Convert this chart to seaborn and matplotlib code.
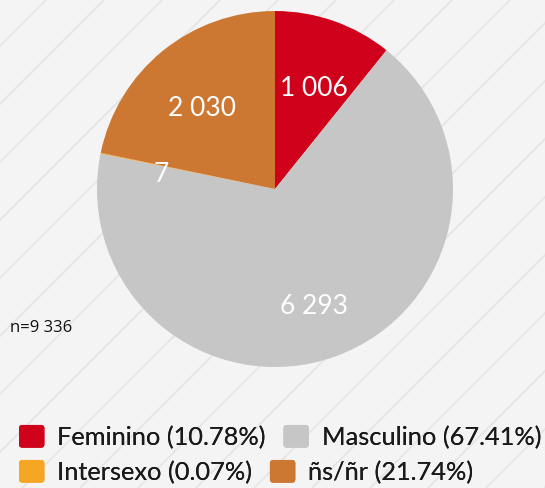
import numpy as np
import matplotlib
matplotlib.use("Agg")
import matplotlib.pyplot as plt
import matplotlib.transforms as mtransforms
import seaborn as sns
from matplotlib.legend_handler import HandlerPatch
from matplotlib.patches import FancyBboxPatch

# data
categories = ["Feminino", "Masculino", "Intersexo", "ñs/ñr"]
counts = [1006, 6293, 7, 2030]
percent_labels = ["10.78%", "67.41%", "0.07%", "21.74%"]
colors = ["#D0021B", "#C6C6C6", "#F5A623", "#CC7833"]
total = sum(counts)

sns.set_theme(style="white")
plt.rcParams["font.family"] = ["Lato", "DejaVu Sans"]

W, H = 545, 488
fig = plt.figure(figsize=(W / 100, H / 100), dpi=100)
fig.patch.set_facecolor("#F4F4F4")

# striped background
bg = fig.add_axes([0, 0, 1, 1], zorder=0)
bg.set_xlim(0, W)
bg.set_ylim(H, 0)
bg.axis("off")
for c in np.arange(-H, W + H + 60, 58) + 12:
    bg.plot([c, c - H], [0, H], color="#E6E6E6", lw=1.4, solid_capstyle="butt")

# pie
cx, cy, r = 275, 189, 178
ax = fig.add_axes([(cx - r) / W, (H - cy - r) / H, 2 * r / W, 2 * r / H], zorder=1)
ax.patch.set_alpha(0)


def fmt(p):
    v = int(round(p * total / 100))
    return f"{v:,}".replace(",", " ")


wedges, _, autotexts = ax.pie(
    counts, colors=colors, startangle=90, counterclock=False,
    autopct=fmt, pctdistance=0.65, radius=1,
    wedgeprops=dict(linewidth=0),
    textprops=dict(color="white", fontsize=19),
)
ax.set_xlim(-1, 1)
ax.set_ylim(-1, 1)
# labels sit a bit lower than the wedge centroid
shift = mtransforms.offset_copy(ax.transData, fig=fig, x=0, y=-9, units="dots")
for t in autotexts:
    t.set_transform(shift)

fig.text(10 / W, 1 - 328 / H, f"n={total:,}".replace(",", " "),
         fontsize=12, family=["Open Sans", "DejaVu Sans"], va="center", color="#111111")


class RoundHandler(HandlerPatch):
    def create_artists(self, legend, orig_handle, xdescent, ydescent, width, height, fontsize, trans):
        p = FancyBboxPatch((-xdescent, -ydescent), width, height,
                           boxstyle="round,pad=0,rounding_size=2.5",
                           facecolor=orig_handle.get_facecolor(), edgecolor="none",
                           transform=trans)
        return [p]


labels = [f"{c} ({p})" for c, p in zip(categories, percent_labels)]
hmap = {w: RoundHandler() for w in wedges}
for row, yc in enumerate([437, 472]):
    idx = [2 * row, 2 * row + 1]
    leg = fig.legend([wedges[i] for i in idx], [labels[i] for i in idx],
                     loc="center left", bbox_to_anchor=(19 / W, 1 - yc / H),
                     ncol=2, frameon=False, fontsize=18.3, handler_map=hmap,
                     handlelength=1.0, handleheight=1.0, handletextpad=0.5,
                     columnspacing=0.7, borderpad=0, borderaxespad=0)
    for t in leg.get_texts():
        t.set_color("#1a1a1a")
    fig.add_artist(leg)

fig.savefig("out.png", dpi=100, facecolor=fig.get_facecolor())
